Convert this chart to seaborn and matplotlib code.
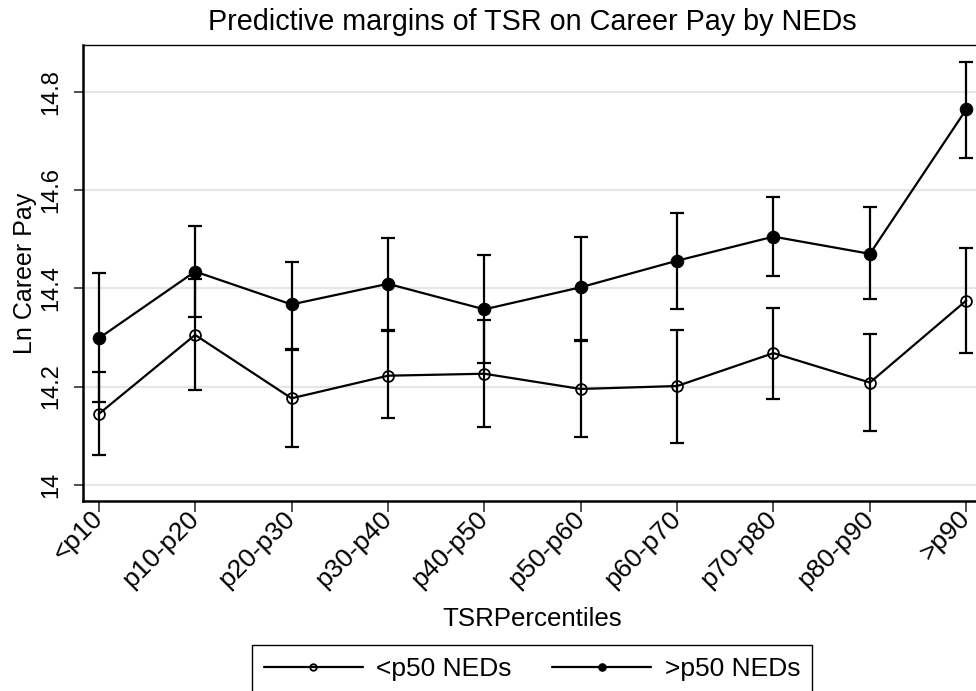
import pandas as pd
import matplotlib.pyplot as plt
import seaborn as sns

# TSR percentile groups
categories = ['<p10', 'p10-p20', 'p20-p30', 'p30-p40', 'p40-p50',
              'p50-p60', 'p60-p70', 'p70-p80', 'p80-p90', '>p90']

# <p50 NEDs: margin and 95% CI
low_ned = [14.144, 14.305, 14.176, 14.222, 14.226, 14.195, 14.201, 14.268, 14.208, 14.375]
low_ned_lo = [14.060, 14.192, 14.077, 14.136, 14.117, 14.098, 14.085, 14.175, 14.110, 14.268]
low_ned_hi = [14.230, 14.418, 14.275, 14.313, 14.336, 14.292, 14.315, 14.359, 14.306, 14.481]

# >p50 NEDs: margin and 95% CI
high_ned = [14.298, 14.434, 14.367, 14.409, 14.357, 14.402, 14.456, 14.505, 14.470, 14.764]
high_ned_lo = [14.169, 14.341, 14.277, 14.316, 14.247, 14.295, 14.357, 14.424, 14.378, 14.666]
high_ned_hi = [14.430, 14.527, 14.453, 14.502, 14.468, 14.504, 14.554, 14.586, 14.565, 14.861]

y_ticks = [14, 14.2, 14.4, 14.6, 14.8]
y_tick_labels = ['14', '14.2', '14.4', '14.6', '14.8']

df_low = pd.DataFrame({'pct': categories, 'pay': low_ned, 'lo': low_ned_lo, 'hi': low_ned_hi})
df_high = pd.DataFrame({'pct': categories, 'pay': high_ned, 'lo': high_ned_lo, 'hi': high_ned_hi})

sns.set_style('white')
plt.rcParams['font.family'] = ['Liberation Sans', 'DejaVu Sans']
plt.rcParams['text.color'] = 'black'
plt.rcParams['axes.labelcolor'] = 'black'
plt.rcParams['xtick.color'] = '#333333'
plt.rcParams['ytick.color'] = '#333333'
plt.rcParams['xtick.labelcolor'] = 'black'
plt.rcParams['ytick.labelcolor'] = 'black'

fig = plt.figure(figsize=(9.76, 6.91), dpi=100)
ax = fig.add_axes([83 / 976, 1 - 501 / 691, 899 / 976, 456 / 691])

# gridlines
for t in y_ticks:
    ax.axhline(t, color='#e6e6e6', lw=1.6, zorder=0)

# CIs
for d in (df_low, df_high):
    ax.errorbar(d['pct'], d['pay'], yerr=[d['pay'] - d['lo'], d['hi'] - d['pay']],
                fmt='none', ecolor='black', elinewidth=1.6, capsize=5.2, capthick=1.6, zorder=2)

sns.lineplot(data=df_low, x='pct', y='pay', sort=False, color='black', lw=1.6,
             marker='o', markersize=7.8, markerfacecolor='none', markeredgecolor='black',
             markeredgewidth=1.3, label='<p50 NEDs', legend=False, ax=ax, zorder=3)
sns.lineplot(data=df_high, x='pct', y='pay', sort=False, color='black', lw=1.6,
             marker='o', markersize=9, markerfacecolor='black', markeredgecolor='black',
             label='>p50 NEDs', legend=False, ax=ax, zorder=3)

ax.set_xlim(-0.163, 9.163)
ax.set_ylim(13.967, 14.895)
ax.set_yticks(y_ticks)
ax.set_yticklabels(y_tick_labels, rotation=90, va='center', fontsize=17)
ax.tick_params(axis='y', length=6.5, width=1.2, pad=8.5, left=True)
ax.tick_params(axis='x', length=8, width=1.2, pad=2, bottom=True)
for lab in ax.get_xticklabels():
    lab.set_rotation(45)
    lab.set_ha('right')
    lab.set_va('center')
    lab.set_rotation_mode('anchor')
    lab.set_fontsize(19)

for side in ['left', 'bottom']:
    ax.spines[side].set_linewidth(1.8)
    ax.spines[side].set_color('black')
ax.spines['top'].set_linewidth(1.0)
ax.spines['top'].set_color('black')
ax.spines['right'].set_visible(False)

ax.set_xlabel('TSRPercentiles', fontsize=18.6)
ax.xaxis.set_label_coords(0.5, -0.232)
ax.set_ylabel('Ln Career Pay', fontsize=18)
ax.yaxis.set_label_coords(-0.051, 0.5)

fig.text(532 / 976, 1 - 22 / 691, 'Predictive margins of TSR on Career Pay by NEDs',
         ha='center', va='center', fontsize=20.7)

handles, labels = ax.get_legend_handles_labels()
leg = fig.legend(handles, labels, ncol=2, loc='upper center',
                 bbox_to_anchor=(532 / 976, 1 - 645 / 691), fontsize=19,
                 handlelength=3.75, columnspacing=1.55, handletextpad=0.5,
                 markerscale=0.6, fancybox=False, framealpha=1, borderpad=0.45,
                 borderaxespad=0)
leg.get_frame().set_edgecolor('black')
leg.get_frame().set_linewidth(1.0)

fig.savefig('out.png', dpi=100)
